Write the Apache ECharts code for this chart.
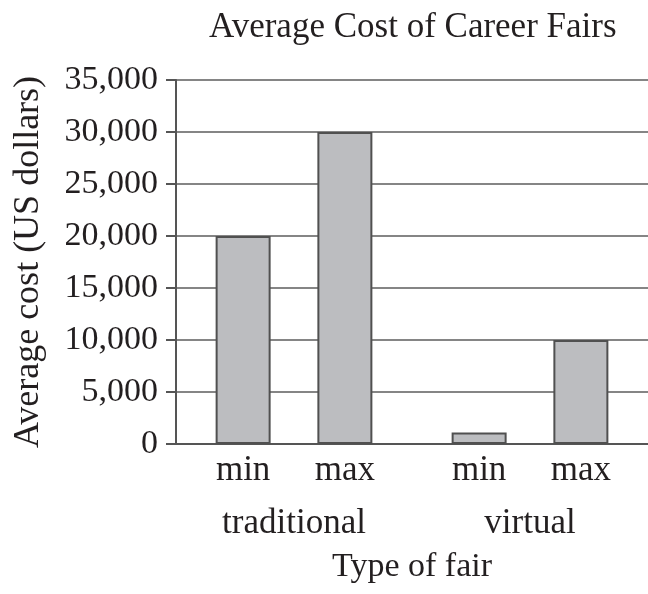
<!DOCTYPE html>
<html>
<head>
<meta charset="utf-8">
<script src="https://cdn.jsdelivr.net/npm/echarts@6/dist/echarts.min.js"></script>
<style>
    html, body { margin: 0; padding: 0; background: #fff; }
    #chart { width: 648px; height: 594px; }
</style>
</head>
<body>
<div id="chart"></div>
<script>
var fairTypes = ['traditional', 'virtual'];
var minCost = [20000, 1100];
var maxCost = [30000, 10000];
var yTicks = [0, 5000, 10000, 15000, 20000, 25000, 30000, 35000];

var textColor = '#231f20';
var serif = '"Liberation Serif", "DejaVu Serif", serif';

var myChart = echarts.init(document.getElementById('chart'));

// label under each bar shows the series name (min / max)
function barSeries(name, data) {
    return {
        name : name,
        type : 'bar',
        data : data,
        barWidth : 55,
        barGap : '85%',
        itemStyle : {
            color : '#bcbdc0',
            borderColor : '#505050',
            borderWidth : 2
        },
        label : {
            show : true,
            position : 'bottom',
            distance : 9,
            formatter : '{a}',
            color : textColor,
            fontFamily : serif,
            fontSize : 35
        },
        emphasis : { disabled : true }
    };
}

var option = {
    animation : false,
    backgroundColor : '#fff',
    title : {
        text : 'Average Cost of Career Fairs',
        left : 204,
        top : 5,
        textStyle : {
            color : textColor,
            fontFamily : serif,
            fontWeight : 'normal',
            fontSize : 35
        }
    },
    grid : {
        left : 176,
        right : 0,
        top : 80,
        bottom : 150
    },
    xAxis : {
        type : 'category',
        data : fairTypes,
        name : 'Type of fair',
        nameLocation : 'middle',
        nameGap : 106,
        nameTextStyle : {
            color : textColor,
            fontFamily : serif,
            fontSize : 34
        },
        axisLine : { lineStyle : { color : '#555', width : 2 } },
        axisTick : { show : false },
        axisLabel : {
            margin : 62,
            color : textColor,
            fontFamily : serif,
            fontSize : 35
        }
    },
    yAxis : {
        type : 'value',
        min : yTicks[0],
        max : yTicks[yTicks.length - 1],
        interval : 5000,
        name : 'Average cost (US dollars)',
        nameLocation : 'middle',
        nameGap : 129,
        nameTextStyle : {
            color : textColor,
            fontFamily : serif,
            fontSize : 36
        },
        axisLine : { show : true, lineStyle : { color : '#555', width : 2 } },
        axisTick : { show : true, length : 10, lineStyle : { color : '#555', width : 2 } },
        splitLine : { lineStyle : { color : '#858585', width : 2 } },
        axisLabel : {
            margin : 18,
            color : textColor,
            fontFamily : serif,
            fontSize : 34,
            formatter : function(v) {
                return v.toLocaleString('en-US');
            }
        }
    },
    series : [ barSeries('min', minCost), barSeries('max', maxCost) ]
};

myChart.setOption(option);
</script>
</body>
</html>
